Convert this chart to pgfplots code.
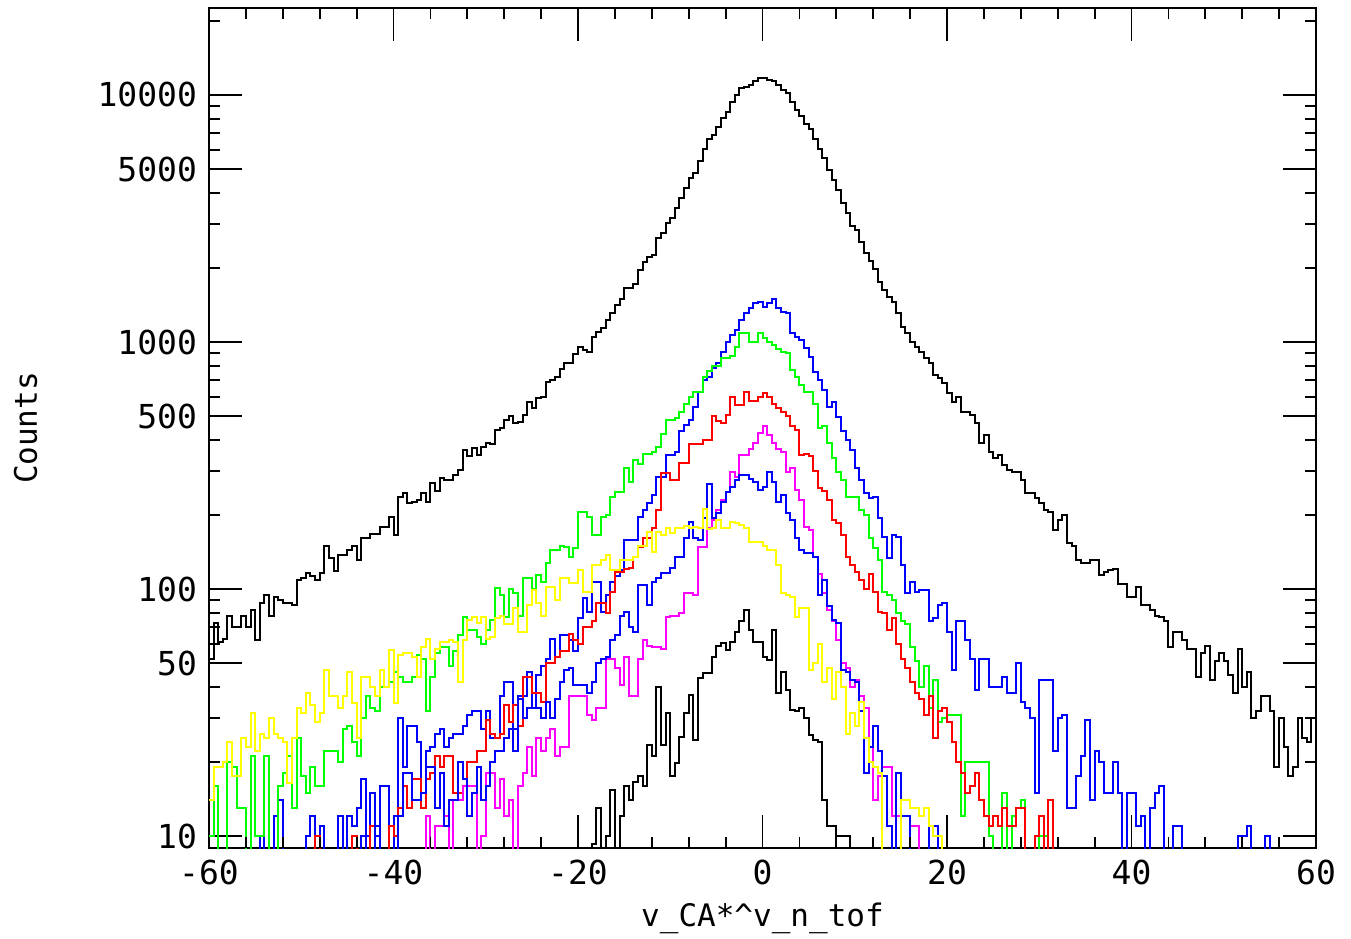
\documentclass[border=0pt]{standalone}
\usepackage{pgfplots}
\usepackage{pgfplotstable}
\usepackage{fontspec}
\setmainfont{DejaVu Sans Mono}
\pgfplotsset{compat=1.18}
\definecolor{cblack}{RGB}{0,0,0}
\definecolor{cblue}{RGB}{0,0,255}
\definecolor{cgreen}{RGB}{0,255,0}
\definecolor{cred}{RGB}{255,0,0}
\definecolor{cmag}{RGB}{255,0,255}
\definecolor{cyel}{RGB}{255,255,0}
\pgfplotstableread{
x b1 bl g r m b2 y k2
-60 52 1 10 1 1 1 14 1
-59.5 73 1 16 1 1 1 19 1
-59 61 1 1 1 1 1 19 1
-58.5 63 1 1 1 1 1 20 1
-58 78 1 20 1 1 1 24 1
-57.5 70 1 19 1 1 1 17.5 1
-57 70 1 13 1 1 1 17.5 1
-56.5 78 1 13 1 1 1 25 1
-56 70 1 1 1 1 1 23 1
-55.5 82 1 21 1 1 1 31.5 1
-55 62 1 10 1 1 1 22 1
-54.5 88 10 10 1 1 1 26 1
-54 95 1 21 1 1 1 25 1
-53.5 78 1 1 1 1 1 30 1
-53 93 12 1 1 1 1 26 1
-52.5 90 14 16 1 1 1 25 1
-52 88 1 18 1 1 1 24 1
-51.5 88 1 21 1 1 1 16.4 1
-51 86 1 13 1 1 1 25 1
-50.5 109 1 25 1 1 1 33 1
-50 111 1 17.5 1 1 1 31.5 1
-49.5 116 10 15 1 1 1 38 1
-49 113 12 19 1 1 1 34 1
-48.5 109 1 16 10 1 1 29 1
-48 116 11 16 1 1 1 31.5 1
-47.5 150 1 22 1 1 1 47 1
-47 134 1 22 1 1 1 37 1
-46.5 118 1 22 1 1 1 37 1
-46 137 12 20 1 1 1 33 1
-45.5 137 1 27 1 1 1 37 1
-45 144 12 28 1 1 1 46 1
-44.5 150 11 24 10 1 1 34.6 1
-44 131 13 21 1 1 1 25 1
-43.5 161 17 30 1 1 10 44 1
-43 161 10 37 1 1 1 44 1
-42.5 167 15 33 11 1 1 40 1
-42 167 10 32 11 1 11 37 1
-41.5 178 16 40 1 1 1 47 1
-41 178 16 40 1 1 1 40 1
-40.5 195 1 42 11 1 1 56.6 1
-40 165 12 46 10 1 1 34.6 1
-39.5 236 30 44 13 1 12 54 1
-39 245 19 42 16 1 18 55 1
-38.5 222 28 42 13 1 18 55 1
-38 224 28 44 17 1 14 53 1
-37.5 229 24 54 17 1 14 44 1
-37 245 15 52 13 1 15 58 1
-36.5 226 22 32 17 12 19 63 1
-36 268 23 44 18 1 19 52 1
-35.5 250 26 55 21 11 13 57 1
-35 281 27 58 19 11 18 61 1
-34.5 276 23 58 21 12 11 61 1
-34 276 25 49 21 1 14 62 1
-33.5 290 26 56 15 14 14 61 1
-33 303 26 65 15 14 20 42 1
-32.5 365 28 77 16 16 17 62 1
-32 344 31 68 20 16 12 75 1
-31.5 372 32 68 20 16 15 77 1
-31 350 32 64 22 1 19 73 1
-30.5 375 27 60 22 10 14 77 1
-30 390 32 68 29.5 18 16 63 1
-29.5 385 25 75 26 18 20 64 1
-29 440 25 101 25 13 22 76 1
-28.5 450 37 95 26 17 22 78 1
-28 485 42 77 34 12 25 72 1
-27.5 500 42 100 29 14 27 72 1
-27 470 22 96 34 1 27 84 1
-26.5 475 37 78 28 16 36 67 1
-26 506 37 111 44 18 30 67 1
-25.5 572 46 111 44 23 33 86 1
-25 540 33 100 38 17.5 33 99 1
-24.5 594 45 114 38 25 33 88 1
-24 600 49 107 35 22 30 78 1
-23.5 690 52 127 50 25 35 102 1
-23 702 63 144 50 27 30 102 1
-22.5 720 53 144 53 21 36 90 1
-22 780 65 150 56 23 42 111 1
-21.5 820 65 148 56 23 47 111 1
-21 820 62 135 66 37 48 106 1
-20.5 890 56 146 62 37 41 106 1
-20 950 76 205 60 37 41 119 1
-19.5 929 92 205 70 37 41 97 1
-19 910 81 195 70 31 38 97 1
-18.5 1050 107 165 74 29.5 42 125 9.3
-18 1100 107 165 88 33 50 125 13
-17.5 1140 81 195 88 33 52 131 1
-17 1228 95 200 80 52 53 137 10
-16.5 1310 107 235 97 52 62 119 15.4
-16 1410 113 248 117 48 65 119 1
-15.5 1500 119 248 117 41 78 131 12
-15 1660 158 308 120 53 81 131 16
-14.5 1660 158 270 122 37 70 131 14
-14 1720 158 333 135 37 67 135 16.5
-13.5 1955 195 320 148 52 104 150 17.5
-13 2100 209 352 161 62 104 150 16
-12.5 2200 222 352 161 59 86 170 23.4
-12 2250 240 357 177 58 107 141 21
-11.5 2630 284 376 209 58 111 170 40
-11 2760 284 425 295 57 116 165 23.4
-10.5 3040 350 483 295 77 116 176 31.5
-10 3180 350 483 276 78 122 168 17.5
-9.5 3500 357 494 276 78 135 177 19.8
-9 3820 435 520 325 80 135 176 25.2
-8.5 4200 460 560 325 96 161 180 31.5
-8 4630 483 600 385 96 186 177 37.3
-7.5 4850 545 630 385 95 161 178 24.5
-7 5380 630 625 385 148 158 176 43.6
-6.5 6040 700 720 400 148 194 210 45.6
-6 6640 720 760 400 177 265 175 45.6
-5.5 6900 785 800 500 190 194 176 53
-5 7420 820 800 480 209 203 190 59
-4.5 8100 910 860 470 229 224 177 60.5
-4 8550 1000 860 505 246 246 177 56.6
-3.5 9370 1070 880 600 297 258 187 61
-3 10000 1119 950 555 285 276 185 67
-2.5 10670 1228 1090 555 350 289 182 74
-2 10780 1310 1090 625 350 289 177 82
-1.5 11000 1370 1000 575 370 280 155 68
-1 11350 1440 1000 575 390 270 155 61
-0.5 11700 1450 1090 600 430 252 155 61
0 11700 1380 1040 620 455 260 150 53
0.5 11500 1440 1000 600 420 297 144 51.6
1 11350 1500 975 560 390 270 144 68
1.5 10970 1370 940 540 370 224 125 38
2 10470 1320 910 520 360 240 96 46
2.5 10200 1310 900 500 297 204 95 39
3 9370 1090 770 455 308 190 93 32.4
3.5 8700 1050 720 440 252 161 77 32
4 8200 1019 670 350 229 144 84 33
4.5 7600 945 630 352 178 140 84 30
5 7250 870 630 345 173 140 47 25.7
5.5 6640 755 560 300 135 135 50 24.5
6 6040 702 450 256 115 95 60 24
6.5 5580 639 455 250 96 109 42 14
7 4990 545 390 229 82 85 48 11
7.5 4530 570 340 190 74 75 36 11
8 4130 495 297 185 62 73 46 10
8.5 3650 435 276 165 50 47 40 10
9 3340 401 236 135 48 46 26 10
9.5 2960 365 236 125 40 43 31.5 1
10 2840 308 236 117 43 42 28 1
10.5 2530 276 209 109 37 32 35 1
11 2300 244 200 100 33 18 25 1
11.5 2130 233 161 115 23 23 20 1
12 1970 236 146 97 14 28 19 1
12.5 1750 194 131 81 17.5 22 18 1
13 1630 162 97 80 19 17.5 1 1
13.5 1520 133 95 68 19 11 1 1
14 1450 166 90 76 12 1 1 1
14.5 1310 162 80 60 12 18 1 1
15 1150 125 74 52 1 12 14 1
15.5 1090 96 72 48 1 12 14 1
16 1000 107 58 42 11 1 13 1
16.5 950 97 51 38 11 1 13 1
17 910 99 40 36 1 1 12 1
17.5 860 99 49 31 1 1 13 1
18 820 74 33 37 1 11 11 1
18.5 735 76 43 25 1 11 10 1
19 715 86 29 32 1 1 10 1
19.5 680 88 30 33 1 1 1 1
20 620 67 31 29 1 1 1 1
20.5 570 47 31 24 1 1 1 1
21 600 74 31 20 1 1 1 1
21.5 520 74 12 18 1 1 1 1
22 520 62 20 15 1 1 1 1
22.5 505 52 20 16 1 1 1 1
23 470 39 20 18 1 1 1 1
23.5 390 52 20 14 1 1 1 1
24 420 52 20 12 1 1 1 1
24.5 357 40 10 11 1 1 1 1
25 340 40 1 12 1 1 1 1
25.5 350 40 1 11 1 1 1 1
26 318 44 15 13 1 1 1 1
26.5 303 38 1 11 1 1 1 1
27 297 38 12 11 1 1 1 1
27.5 297 50 13 13 1 1 1 1
28 276 35 14 13 1 1 1 1
28.5 244 33 1 1 1 1 1 1
29 244 30 1 1 1 1 1 1
29.5 233 15 1 10 1 1 1 1
30 222 43 10 12 1 1 1 1
30.5 209 43 10 1 1 1 1 1
31 205 43 1 14 1 1 1 1
31.5 173 22 1 1 1 1 1 1
32 190 30 1 1 1 1 1 1
32.5 200 31 1 1 1 1 1 1
33 153 13 1 1 1 1 1 1
33.5 150 13 1 1 1 1 1 1
34 131 17.5 1 1 1 1 1 1
34.5 127 21 1 1 1 1 1 1
35 127 29.5 1 1 1 1 1 1
35.5 131 14 1 1 1 1 1 1
36 131 22 1 1 1 1 1 1
36.5 114 20 1 1 1 1 1 1
37 117 15 1 1 1 1 1 1
37.5 119 15 1 1 1 1 1 1
38 121 20 1 1 1 1 1 1
38.5 105 15 1 1 1 1 1 1
39 105 1 1 1 1 1 1 1
39.5 93 15 1 1 1 1 1 1
40 93 15 1 1 1 1 1 1
40.5 102 11 1 1 1 1 1 1
41 86 12 1 1 1 1 1 1
41.5 86 1 1 1 1 1 1 1
42 82 13 1 1 1 1 1 1
42.5 78 15 1 1 1 1 1 1
43 77 16 1 1 1 1 1 1
43.5 74 1 1 1 1 1 1 1
44 58 1 1 1 1 1 1 1
44.5 67 11 1 1 1 1 1 1
45 67 11 1 1 1 1 1 1
45.5 62 1 1 1 1 1 1 1
46 57 1 1 1 1 1 1 1
46.5 57 1 1 1 1 1 1 1
47 44 1 1 1 1 1 1 1
47.5 55 1 1 1 1 1 1 1
48 59 1 1 1 1 1 1 1
48.5 43 1 1 1 1 1 1 1
49 51 1 1 1 1 1 1 1
49.5 55 1 1 1 1 1 1 1
50 51 1 1 1 1 1 1 1
50.5 45 1 1 1 1 1 1 1
51 38 1 1 1 1 1 1 1
51.5 57 10 1 1 1 1 1 1
52 40 10 1 1 1 1 1 1
52.5 46 11 1 1 1 1 1 1
53 30 1 1 1 1 1 1 1
53.5 32 1 1 1 1 1 1 1
54 37 1 1 1 1 1 1 1
54.5 37 10 1 1 1 1 1 1
55 32 1 1 1 1 1 1 1
55.5 19 1 1 1 1 1 1 1
56 30 1 1 1 1 1 1 1
56.5 23 1 1 1 1 1 1 1
57 17.5 1 1 1 1 1 1 1
57.5 19 1 1 1 1 1 1 1
58 30 1 1 1 1 1 1 1
58.5 25 1 1 1 1 1 1 1
59 24 1 1 1 1 1 1 1
59.5 30 1 1 1 1 1 1 1
60 30 1 1 1 1 1 1 1
}\hist
\begin{document}
\begin{tikzpicture}
\begin{axis}[
  scale only axis, width=553.5pt, height=420pt,
  xmin=-60, xmax=60, ymode=log, ymin=8.942, ymax=22500,
  axis line style={line width=0.9pt},
  tick align=inside,
  major tick length=16.5pt, minor tick length=5.5pt,
  tick style={black, line width=0.9pt},
  xtick={-60,-40,-20,0,20,40,60},
  xticklabels={-60,-40,-20,0,20,40,60},
  minor x tick num=4,
  ytick={10,50,100,500,1000,5000,10000},
  yticklabels={10,50,100,500,1000,5000,10000},
  minor ytick={20,30,40,60,70,80,90,200,300,400,600,700,800,900,2000,3000,4000,6000,7000,8000,9000,20000},
  tick label style={font=\fontsize{16.5}{18}\selectfont},
  xticklabel style={yshift=-2.5pt},
  yticklabel style={xshift=-2.5pt},
  label style={font=\fontsize{15.5}{18}\selectfont},
  xlabel={v\_CA*\textasciicircum v\_n\_tof},
  ylabel={Counts},
  xlabel style={at={(axis description cs:0.5,-0.0929)}, anchor=base},
  ylabel style={at={(axis description cs:-0.1554,0.5)}, anchor=base, rotate=0},
  every axis plot/.append style={const plot, line width=1pt, mark=none},
]
\addplot[cblack] table[x=x, y=b1]{\hist};
\addplot[cblue] table[x=x, y=bl]{\hist};
\addplot[cgreen] table[x=x, y=g]{\hist};
\addplot[cred] table[x=x, y=r]{\hist};
\addplot[cmag] table[x=x, y=m]{\hist};
\addplot[cblue] table[x=x, y=b2]{\hist};
\addplot[cyel] table[x=x, y=y]{\hist};
\addplot[cblack] table[x=x, y=k2]{\hist};
\end{axis}
\foreach \i in {1,2,3,4,6,7,8,9,11,12,13,14,16,17,18,19,21,22,23,24,26,27,28,29}{
  \draw[black, line width=0.9pt] ([xshift=\i*18.45pt]current axis.south west) -- ++(0pt,5.5pt);
  \draw[black, line width=0.9pt] ([xshift=\i*18.45pt]current axis.north west) -- ++(0pt,-5.5pt);
}
\pgfresetboundingbox
\path ([xshift=-104.5pt,yshift=-45pt]current axis.south west) rectangle ([xshift=17.5pt,yshift=4pt]current axis.north east);
\end{tikzpicture}
\end{document}
